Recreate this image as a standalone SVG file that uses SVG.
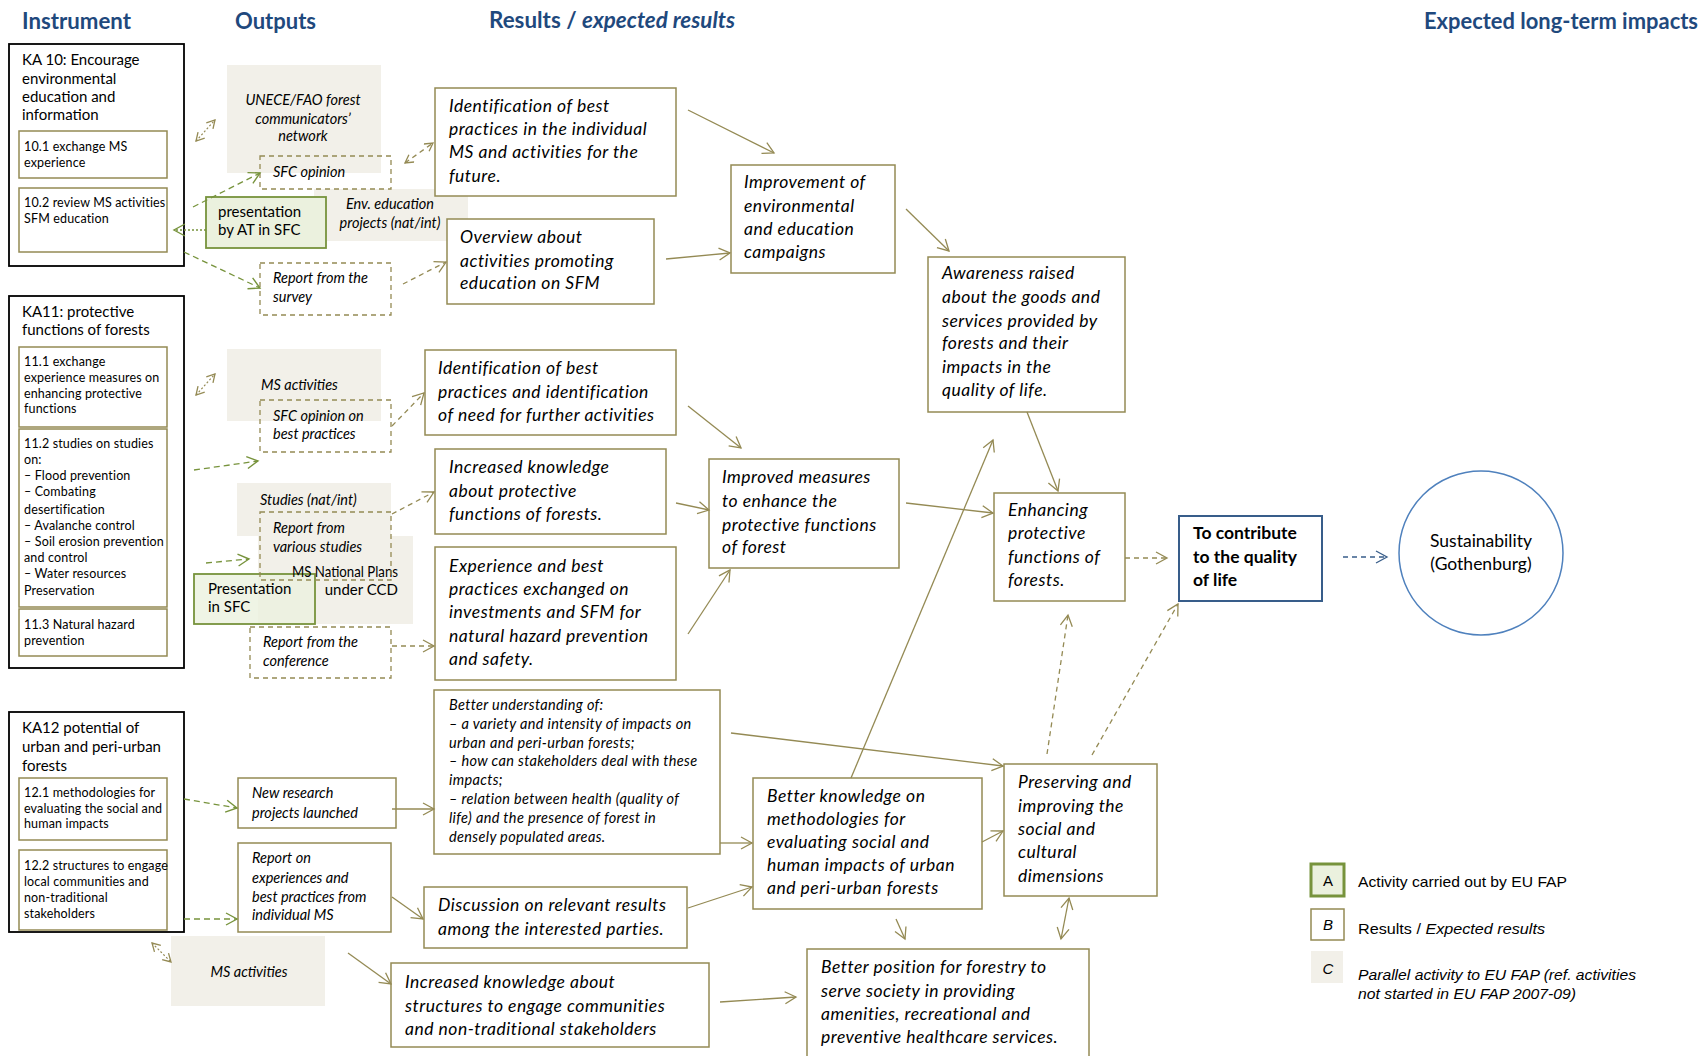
<svg xmlns="http://www.w3.org/2000/svg" width="1703" height="1056" viewBox="0 0 1703 1056">
  <style>
    .ka { fill:#fff; stroke:#000; stroke-width:1.8 }
    .sub { fill:#fff; stroke:#948A54; stroke-width:1.5 }
    .res { fill:#fff; stroke:#948A54; stroke-width:1.5 }
    .par { fill:#F2F0E9 }
    .out { fill:none; stroke:#948A54; stroke-width:1.3; stroke-dasharray:5 4 }
    .act { fill:#EBF1DE; stroke:#77933C; stroke-width:1.8 }
    .goal { fill:#fff; stroke:#385D8A; stroke-width:2 }
    .hdr { font-family:Lato, "Liberation Sans", sans-serif; font-weight:bold; font-size:22px; fill:#1F497D }
    .tka { font-family:Lato, "Liberation Sans", sans-serif; font-size:15px; fill:#000 }
    .tsub { font-family:Lato, "Liberation Sans", sans-serif; font-size:12.5px; letter-spacing:0.15px; fill:#000 }
    .tout { font-family:Lato, "Liberation Sans", sans-serif; font-style:italic; font-size:14.5px; fill:#000 }
    .tup { font-family:Lato, "Liberation Sans", sans-serif; font-size:15px; fill:#000 }
    .tres { font-family:Lato, "Liberation Sans", sans-serif; font-style:italic; font-size:17.5px; letter-spacing:0.5px; fill:#000 }
    .tsm { font-family:Lato, "Liberation Sans", sans-serif; font-style:italic; font-size:14.5px; letter-spacing:0.35px; fill:#000 }
    .tgoal { font-family:Lato, "Liberation Sans", sans-serif; font-weight:bold; font-size:17.5px; fill:#000 }
    .tsus { font-family:Lato, "Liberation Sans", sans-serif; font-size:17.5px; fill:#000 }
    .tleg { font-family:"Liberation Sans", Arial, sans-serif; font-size:15px; fill:#000 }
    .c { fill:none; stroke:#948A54; stroke-width:1.3 }
    .cd { fill:none; stroke:#948A54; stroke-width:1.3; stroke-dasharray:5 4 }
    .cdot { fill:none; stroke:#948A54; stroke-width:1.2; stroke-dasharray:2 2 }
    .cg { fill:none; stroke:#77933C; stroke-width:1.3; stroke-dasharray:6 4 }
    .cgdot { fill:none; stroke:#77933C; stroke-width:1.5; stroke-dasharray:2 2 }
    .cb { fill:none; stroke:#385D8A; stroke-width:1.3; stroke-dasharray:5 4 }
  </style>
  <defs>
    <marker id="ao" markerUnits="userSpaceOnUse" markerWidth="14" markerHeight="14" viewBox="-12 -7 14 14" refX="0" refY="0" orient="auto-start-reverse">
      <path d="M-11,-6 L0,0 L-11,6" fill="none" stroke="#948A54" stroke-width="1.3"/>
    </marker>
    <marker id="aos" markerUnits="userSpaceOnUse" markerWidth="10" markerHeight="10" viewBox="-9 -5 10 10" refX="0" refY="0" orient="auto-start-reverse">
      <path d="M-8,-4.5 L0,0 L-8,4.5" fill="none" stroke="#948A54" stroke-width="1.3"/>
    </marker>
    <marker id="ag" markerUnits="userSpaceOnUse" markerWidth="14" markerHeight="14" viewBox="-12 -7 14 14" refX="0" refY="0" orient="auto-start-reverse">
      <path d="M-11,-6 L0,0 L-11,6" fill="none" stroke="#77933C" stroke-width="1.4"/>
    </marker>
    <marker id="ab" markerUnits="userSpaceOnUse" markerWidth="14" markerHeight="14" viewBox="-12 -7 14 14" refX="0" refY="0" orient="auto-start-reverse">
      <path d="M-11,-6 L0,0 L-11,6" fill="none" stroke="#385D8A" stroke-width="1.3"/>
    </marker>
  </defs>

  <rect width="1703" height="1056" fill="#fff"/>

  <!-- column headings -->
  <g id="headings">
    <text class="hdr" x="22" y="29" textLength="109" lengthAdjust="spacingAndGlyphs">Instrument</text>
    <text class="hdr" x="235" y="29" textLength="81" lengthAdjust="spacingAndGlyphs">Outputs</text>
    <text class="hdr" x="489" y="28" textLength="246" lengthAdjust="spacingAndGlyphs">Results / <tspan font-style="italic">expected results</tspan></text>
    <text class="hdr" x="1424" y="29" textLength="274" lengthAdjust="spacingAndGlyphs">Expected long-term impacts</text>
  </g>

  <!-- instruments -->
  <g id="ka10">
    <rect class="ka" x="9" y="44" width="175" height="222"/>
    <text class="tka" x="22" y="65">KA 10: Encourage</text>
    <text class="tka" x="22" y="84">environmental</text>
    <text class="tka" x="22" y="102">education and</text>
    <text class="tka" x="22" y="120">information</text>
  </g>
  <g id="ka10-1">
    <rect class="sub" x="19" y="131" width="148" height="47"/>
    <text class="tsub" x="24" y="151">10.1 exchange MS</text>
    <text class="tsub" x="24" y="167">experience</text>
  </g>
  <g id="ka10-2">
    <rect class="sub" x="19" y="188" width="148" height="64"/>
    <text class="tsub" x="24" y="207">10.2 review MS activities</text>
    <text class="tsub" x="24" y="223">SFM education</text>
  </g>

  <g id="ka11">
    <rect class="ka" x="9" y="296" width="175" height="372"/>
    <text class="tka" x="22" y="317">KA11: protective</text>
    <text class="tka" x="22" y="335">functions of forests</text>
  </g>
  <g id="ka11-1">
    <rect class="sub" x="19" y="347" width="148" height="80"/>
    <text class="tsub" x="24" y="366">11.1 exchange</text>
    <text class="tsub" x="24" y="382">experience measures on</text>
    <text class="tsub" x="24" y="398">enhancing protective</text>
    <text class="tsub" x="24" y="413">functions</text>
  </g>
  <g id="ka11-2">
    <rect class="sub" x="19" y="429" width="148" height="178"/>
    <text class="tsub" x="24" y="448">11.2  studies on studies</text>
    <text class="tsub" x="24" y="464">on:</text>
    <text class="tsub" x="24" y="480">– Flood prevention</text>
    <text class="tsub" x="24" y="496">– Combating</text>
    <text class="tsub" x="24" y="514">desertification</text>
    <text class="tsub" x="24" y="530">– Avalanche control</text>
    <text class="tsub" x="24" y="546">– Soil erosion prevention</text>
    <text class="tsub" x="24" y="562">and control</text>
    <text class="tsub" x="24" y="578">– Water resources</text>
    <text class="tsub" x="24" y="595">Preservation</text>
  </g>
  <g id="ka11-3">
    <rect class="sub" x="19" y="609" width="148" height="47"/>
    <text class="tsub" x="24" y="629">11.3 Natural hazard</text>
    <text class="tsub" x="24" y="645">prevention</text>
  </g>

  <g id="ka12">
    <rect class="ka" x="9" y="712" width="175" height="220"/>
    <text class="tka" x="22" y="733">KA12 potential of</text>
    <text class="tka" x="22" y="752">urban and peri-urban</text>
    <text class="tka" x="22" y="771">forests</text>
  </g>
  <g id="ka12-1">
    <rect class="sub" x="19" y="778" width="148" height="62"/>
    <text class="tsub" x="24" y="797">12.1 methodologies for</text>
    <text class="tsub" x="24" y="813">evaluating the social  and</text>
    <text class="tsub" x="24" y="828">human impacts</text>
  </g>
  <g id="ka12-2">
    <rect class="sub" x="19" y="850" width="148" height="80"/>
    <text class="tsub" x="24" y="870">12.2 structures to engage</text>
    <text class="tsub" x="24" y="886">local communities  and</text>
    <text class="tsub" x="24" y="902">non-traditional</text>
    <text class="tsub" x="24" y="918">stakeholders</text>
  </g>

  <!-- parallel activities -->
  <g id="unece-network">
    <rect class="par" x="227" y="65" width="154" height="108"/>
    <text class="tout" x="303" y="105" text-anchor="middle">UNECE/FAO forest</text>
    <text class="tout" x="303" y="124" text-anchor="middle">communicators’</text>
    <text class="tout" x="303" y="141" text-anchor="middle">network</text>
  </g>
  <g id="env-education-projects">
    <rect class="par" x="314" y="189" width="154" height="52"/>
    <text class="tout" x="390" y="209" text-anchor="middle">Env. education</text>
    <text class="tout" x="390" y="228" text-anchor="middle">projects (nat/int)</text>
  </g>
  <g id="ms-activities-11">
    <rect class="par" x="227" y="349" width="154" height="72"/>
    <text class="tout" x="261" y="390">MS activities</text>
  </g>
  <g id="studies-nat-int">
    <rect class="par" x="237" y="483" width="154" height="53"/>
    <text class="tout" x="260" y="505">Studies (nat/int)</text>
  </g>
  <g id="ms-national-plans">
    <rect class="par" x="258" y="536" width="155" height="88"/>
  </g>
  <g id="ms-activities-12">
    <rect class="par" x="171" y="936" width="154" height="70"/>
    <text class="tout" x="249" y="977" text-anchor="middle">MS activities</text>
  </g>

  <!-- activities carried out -->
  <g id="presentation-at">
    <rect class="act" x="206" y="197" width="120" height="51"/>
    <text class="tup" x="218" y="217">presentation</text>
    <text class="tup" x="218" y="235">by AT in SFC</text>
  </g>
  <g id="presentation-sfc">
    <rect class="act" x="194" y="574" width="121" height="50" fill-opacity="0.8"/>
    <text class="tup" x="208" y="594">Presentation</text>
    <text class="tup" x="208" y="612">in SFC</text>
  </g>
  <g id="ms-national-plans-label">
    <text class="tup" x="398" y="577" text-anchor="end" font-size="14" textLength="106" lengthAdjust="spacingAndGlyphs">MS National Plans</text>
    <text class="tup" x="398" y="595" text-anchor="end" font-size="14">under CCD</text>
  </g>

  <!-- outputs -->
  <g id="sfc-opinion">
    <rect class="out" x="260" y="156" width="131" height="33"/>
    <text class="tout" x="273" y="177">SFC opinion</text>
  </g>
  <g id="report-survey">
    <rect class="out" x="260" y="263" width="131" height="52"/>
    <text class="tout" x="273" y="283">Report from the</text>
    <text class="tout" x="273" y="302">survey</text>
  </g>
  <g id="sfc-opinion-best-practices">
    <rect class="out" x="260" y="400" width="131" height="52"/>
    <text class="tout" x="273" y="421">SFC opinion on</text>
    <text class="tout" x="273" y="439">best practices</text>
  </g>
  <g id="report-studies">
    <rect class="out" x="260" y="512" width="131" height="68"/>
    <text class="tout" x="273" y="533">Report from</text>
    <text class="tout" x="273" y="552" font-size="13">various studies</text>
  </g>
  <g id="report-conference">
    <rect class="out" x="250" y="627" width="141" height="51"/>
    <text class="tout" x="263" y="647">Report from the</text>
    <text class="tout" x="263" y="666">conference</text>
  </g>
  <g id="new-research">
    <rect class="res" x="238" y="778" width="158" height="50"/>
    <text class="tout" x="252" y="798">New research</text>
    <text class="tout" x="252" y="818">projects launched</text>
  </g>
  <g id="report-experiences">
    <rect class="res" x="238" y="843" width="153" height="89"/>
    <text class="tout" x="252" y="863">Report on</text>
    <text class="tout" x="252" y="883">experiences and</text>
    <text class="tout" x="252" y="902">best practices from</text>
    <text class="tout" x="252" y="920">individual  MS</text>
  </g>

  <!-- results -->
  <g id="best-practices-ms">
    <rect class="res" x="435" y="88" width="241" height="108"/>
    <text class="tres" x="449" y="112">Identification of best</text>
    <text class="tres" x="449" y="135">practices  in the  individual</text>
    <text class="tres" x="449" y="158">MS and activities  for the</text>
    <text class="tres" x="449" y="182">future.</text>
  </g>
  <g id="overview-education">
    <rect class="res" x="447" y="219" width="207" height="85"/>
    <text class="tres" x="460" y="243">Overview about</text>
    <text class="tres" x="460" y="267">activities promoting</text>
    <text class="tres" x="460" y="289">education on SFM</text>
  </g>
  <g id="improvement-campaigns">
    <rect class="res" x="731" y="165" width="164" height="108"/>
    <text class="tres" x="744" y="188">Improvement of</text>
    <text class="tres" x="744" y="212">environmental</text>
    <text class="tres" x="744" y="235">and education</text>
    <text class="tres" x="744" y="258">campaigns</text>
  </g>
  <g id="awareness">
    <rect class="res" x="928" y="257" width="197" height="155"/>
    <text class="tres" x="942" y="279">Awareness raised</text>
    <text class="tres" x="942" y="303">about the goods and</text>
    <text class="tres" x="942" y="327">services  provided by</text>
    <text class="tres" x="942" y="349">forests and their</text>
    <text class="tres" x="942" y="373">impacts in the</text>
    <text class="tres" x="942" y="396">quality of life.</text>
  </g>
  <g id="best-practices-need">
    <rect class="res" x="425" y="350" width="251" height="85"/>
    <text class="tres" x="438" y="374">Identification of best</text>
    <text class="tres" x="438" y="398">practices  and identification</text>
    <text class="tres" x="438" y="421">of need for further  activities</text>
  </g>
  <g id="knowledge-protective">
    <rect class="res" x="435" y="449" width="231" height="85"/>
    <text class="tres" x="449" y="473">Increased  knowledge</text>
    <text class="tres" x="449" y="497">about protective</text>
    <text class="tres" x="449" y="520">functions of forests.</text>
  </g>
  <g id="improved-measures">
    <rect class="res" x="709" y="459" width="190" height="109"/>
    <text class="tres" x="722" y="483">Improved measures</text>
    <text class="tres" x="722" y="507">to enhance  the</text>
    <text class="tres" x="722" y="531">protective functions</text>
    <text class="tres" x="722" y="553">of forest</text>
  </g>
  <g id="experience-exchanged">
    <rect class="res" x="435" y="547" width="241" height="133"/>
    <text class="tres" x="449" y="572">Experience  and best</text>
    <text class="tres" x="449" y="595">practices  exchanged on</text>
    <text class="tres" x="449" y="618">investments  and SFM  for</text>
    <text class="tres" x="449" y="642">natural hazard prevention</text>
    <text class="tres" x="449" y="665">and safety.</text>
  </g>
  <g id="enhancing-protective">
    <rect class="res" x="994" y="493" width="131" height="108"/>
    <text class="tres" x="1008" y="516">Enhancing</text>
    <text class="tres" x="1008" y="539">protective</text>
    <text class="tres" x="1008" y="563">functions of</text>
    <text class="tres" x="1008" y="586">forests.</text>
  </g>
  <g id="better-understanding">
    <rect class="res" x="434" y="690" width="286" height="164"/>
    <text class="tsm" x="449" y="710">Better understanding of:</text>
    <text class="tsm" x="449" y="729">– a variety and intensity of impacts on</text>
    <text class="tsm" x="449" y="748">urban and peri-urban forests;</text>
    <text class="tsm" x="449" y="766">– how can stakeholders deal with these</text>
    <text class="tsm" x="449" y="785">impacts;</text>
    <text class="tsm" x="449" y="804">– relation between health (quality of</text>
    <text class="tsm" x="449" y="823">life) and the presence of forest in</text>
    <text class="tsm" x="449" y="842">densely populated areas.</text>
  </g>
  <g id="discussion">
    <rect class="res" x="424" y="887" width="263" height="61"/>
    <text class="tres" x="438" y="911">Discussion on relevant  results</text>
    <text class="tres" x="438" y="935">among the interested  parties.</text>
  </g>
  <g id="knowledge-structures">
    <rect class="res" x="391" y="963" width="318" height="84"/>
    <text class="tres" x="405" y="988">Increased  knowledge about</text>
    <text class="tres" x="405" y="1012">structures  to engage communities</text>
    <text class="tres" x="405" y="1035">and non-traditional stakeholders</text>
  </g>
  <g id="better-knowledge">
    <rect class="res" x="753" y="778" width="229" height="131"/>
    <text class="tres" x="767" y="802">Better  knowledge  on</text>
    <text class="tres" x="767" y="825">methodologies for</text>
    <text class="tres" x="767" y="848">evaluating social and</text>
    <text class="tres" x="767" y="871">human impacts  of urban</text>
    <text class="tres" x="767" y="894">and peri-urban forests</text>
  </g>
  <g id="preserving-social">
    <rect class="res" x="1004" y="764" width="153" height="132"/>
    <text class="tres" x="1018" y="788">Preserving and</text>
    <text class="tres" x="1018" y="812">improving the</text>
    <text class="tres" x="1018" y="835">social and</text>
    <text class="tres" x="1018" y="858">cultural</text>
    <text class="tres" x="1018" y="882">dimensions</text>
  </g>
  <g id="better-position">
    <rect class="res" x="807" y="949" width="282" height="115"/>
    <text class="tres" x="821" y="973">Better position for forestry  to</text>
    <text class="tres" x="821" y="997">serve society  in providing</text>
    <text class="tres" x="821" y="1020">amenities, recreational  and</text>
    <text class="tres" x="821" y="1043">preventive  healthcare  services.</text>
  </g>

  <!-- long-term impacts -->
  <g id="quality-of-life">
    <rect class="goal" x="1179" y="516" width="143" height="85"/>
    <text class="tgoal" x="1193" y="539">To contribute</text>
    <text class="tgoal" x="1193" y="563">to the quality</text>
    <text class="tgoal" x="1193" y="586">of life</text>
  </g>
  <g id="sustainability">
    <circle cx="1481" cy="553" r="82" fill="#fff" stroke="#4F81BD" stroke-width="1.5"/>
    <text class="tsus" x="1481" y="547" text-anchor="middle">Sustainability</text>
    <text class="tsus" x="1481" y="570" text-anchor="middle">(Gothenburg)</text>
  </g>

  <!-- legend -->
  <g id="legend">
    <rect x="1311" y="864" width="33" height="32" fill="#EBF1DE" stroke="#77933C" stroke-width="3"/>
    <text class="tleg" x="1328" y="886" text-anchor="middle" font-size="13">A</text>
    <text class="tleg" x="1358" y="887" textLength="209" lengthAdjust="spacingAndGlyphs">Activity carried out by EU FAP</text>
    <rect x="1311" y="909" width="33" height="31" fill="#fff" stroke="#948A54" stroke-width="1.5"/>
    <text class="tleg" x="1328" y="930" text-anchor="middle" font-size="13" font-style="italic">B</text>
    <text class="tleg" x="1358" y="934" textLength="187" lengthAdjust="spacingAndGlyphs">Results / <tspan font-style="italic">Expected  results</tspan></text>
    <rect x="1311" y="951" width="32" height="32" fill="#F2F0E9"/>
    <text class="tleg" x="1328" y="974" text-anchor="middle" font-size="13" font-style="italic">C</text>
    <text class="tleg" x="1358" y="980" font-style="italic" textLength="278" lengthAdjust="spacingAndGlyphs">Parallel activity to EU FAP (ref. activities</text>
    <text class="tleg" x="1358" y="999" font-style="italic" textLength="218" lengthAdjust="spacingAndGlyphs">not started in EU FAP 2007-09)</text>
  </g>

  <!-- connectors -->
  <g id="connectors">
    <!-- instruments to outputs -->
    <line class="cdot" x1="196" y1="141" x2="215" y2="120" marker-start="url(#aos)" marker-end="url(#aos)"/>
    <line class="cdot" x1="196" y1="395" x2="215" y2="374" marker-start="url(#aos)" marker-end="url(#aos)"/>
    <line class="cdot" x1="152" y1="943" x2="171" y2="962" marker-start="url(#aos)" marker-end="url(#aos)"/>
    <line class="cg" x1="193" y1="207" x2="260" y2="173" marker-end="url(#ag)"/>
    <line class="cgdot" x1="206" y1="230" x2="174" y2="230" marker-end="url(#ag)"/>
    <line class="cg" x1="184" y1="252" x2="260" y2="288" marker-end="url(#ag)"/>
    <line class="cg" x1="194" y1="470" x2="258" y2="461" marker-end="url(#ag)"/>
    <line class="cg" x1="206" y1="563" x2="249" y2="559" marker-end="url(#ag)"/>
    <line class="cg" x1="184" y1="799" x2="237" y2="808" marker-end="url(#ag)"/>
    <line class="cg" x1="184" y1="919" x2="237" y2="919" marker-end="url(#ag)"/>

    <!-- outputs to results -->
    <line class="cd" x1="405" y1="163" x2="433" y2="143" marker-start="url(#aos)" marker-end="url(#aos)"/>
    <line class="cd" x1="403" y1="284" x2="446" y2="262" marker-end="url(#ao)"/>
    <line class="cd" x1="392" y1="426" x2="424" y2="393" marker-end="url(#ao)"/>
    <line class="cd" x1="392" y1="514" x2="434" y2="492" marker-end="url(#ao)"/>
    <line class="cd" x1="392" y1="646" x2="434" y2="646" marker-end="url(#ao)"/>
    <line class="c" x1="392" y1="809" x2="434" y2="809" marker-end="url(#ao)"/>
    <line class="c" x1="392" y1="897" x2="423" y2="919" marker-end="url(#ao)"/>
    <line class="c" x1="348" y1="953" x2="391" y2="984" marker-end="url(#ao)"/>

    <!-- between results -->
    <line class="c" x1="688" y1="110" x2="774" y2="153" marker-end="url(#ao)"/>
    <line class="c" x1="666" y1="259" x2="730" y2="253" marker-end="url(#ao)"/>
    <line class="c" x1="906" y1="209" x2="949" y2="251" marker-end="url(#ao)"/>
    <line class="c" x1="1027" y1="412" x2="1058" y2="491" marker-end="url(#ao)"/>
    <line class="c" x1="688" y1="406" x2="741" y2="448" marker-end="url(#ao)"/>
    <line class="c" x1="676" y1="503" x2="709" y2="510" marker-end="url(#ao)"/>
    <line class="c" x1="688" y1="634" x2="730" y2="570" marker-end="url(#ao)"/>
    <line class="c" x1="906" y1="503" x2="993" y2="513" marker-end="url(#ao)"/>
    <line class="c" x1="851" y1="778" x2="993" y2="440" marker-end="url(#ao)"/>
    <line class="c" x1="720" y1="843" x2="752" y2="843" marker-end="url(#ao)"/>
    <line class="c" x1="688" y1="908" x2="752" y2="887" marker-end="url(#ao)"/>
    <line class="c" x1="720" y1="1002" x2="796" y2="997" marker-end="url(#ao)"/>
    <line class="c" x1="731" y1="733" x2="1003" y2="766" marker-end="url(#ao)"/>
    <line class="c" x1="982" y1="842" x2="1003" y2="831" marker-end="url(#ao)"/>
    <line class="c" x1="896" y1="919" x2="905" y2="939" marker-end="url(#ao)"/>
    <line class="c" x1="1069" y1="898" x2="1061" y2="939" marker-start="url(#ao)" marker-end="url(#ao)"/>

    <!-- towards long-term impacts -->
    <line class="cd" x1="1125" y1="558" x2="1167" y2="558" marker-end="url(#ao)"/>
    <line class="cd" x1="1047" y1="754" x2="1068" y2="615" marker-end="url(#ao)"/>
    <line class="cd" x1="1092" y1="755" x2="1178" y2="604" marker-end="url(#ao)"/>
    <line class="cb" x1="1343" y1="557" x2="1387" y2="557" marker-end="url(#ab)"/>
  </g>
</svg>
